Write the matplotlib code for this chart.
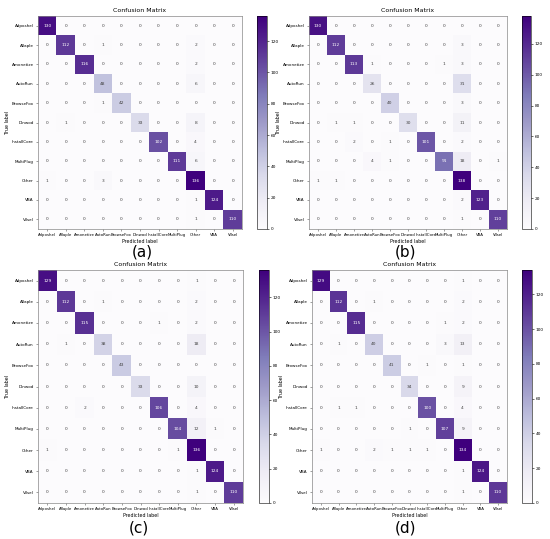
import numpy as np
import matplotlib
matplotlib.use("Agg")
import matplotlib.pyplot as plt

labels = ["Adposhel", "Allaple", "Amonetize", "AutoRun", "BrowseFox", "Dinwod",
          "InstallCore", "MultiPlug", "Other", "VBA", "Vilsel"]

cm_a = [[130, 0, 0, 0, 0, 0, 0, 0, 0, 0, 0],
        [0, 112, 0, 1, 0, 0, 0, 0, 2, 0, 0],
        [0, 0, 116, 0, 0, 0, 0, 0, 2, 0, 0],
        [0, 0, 0, 48, 0, 0, 0, 0, 6, 0, 0],
        [0, 0, 0, 1, 42, 0, 0, 0, 0, 0, 0],
        [0, 1, 0, 0, 0, 33, 0, 0, 8, 0, 0],
        [0, 0, 0, 0, 0, 0, 102, 0, 4, 0, 0],
        [0, 0, 0, 0, 0, 0, 0, 111, 6, 0, 0],
        [1, 0, 0, 3, 0, 0, 0, 0, 136, 0, 0],
        [0, 0, 0, 0, 0, 0, 0, 0, 1, 124, 0],
        [0, 0, 0, 0, 0, 0, 0, 0, 1, 0, 110]]

cm_b = [[130, 0, 0, 0, 0, 0, 0, 0, 0, 0, 0],
        [0, 112, 0, 0, 0, 0, 0, 0, 3, 0, 0],
        [0, 0, 113, 1, 0, 0, 0, 1, 3, 0, 0],
        [0, 0, 0, 26, 0, 0, 0, 0, 31, 0, 0],
        [0, 0, 0, 0, 40, 0, 0, 0, 3, 0, 0],
        [0, 1, 1, 0, 0, 30, 0, 0, 11, 0, 0],
        [0, 0, 2, 0, 1, 0, 101, 0, 2, 0, 0],
        [0, 0, 0, 4, 1, 0, 0, 91, 18, 0, 1],
        [1, 1, 0, 0, 0, 0, 0, 0, 138, 0, 0],
        [0, 0, 0, 0, 0, 0, 0, 0, 2, 123, 0],
        [0, 0, 0, 0, 0, 0, 0, 0, 1, 0, 110]]

cm_c = [[129, 0, 0, 0, 0, 0, 0, 0, 1, 0, 0],
        [0, 112, 0, 1, 0, 0, 0, 0, 2, 0, 0],
        [0, 0, 115, 0, 0, 0, 1, 0, 2, 0, 0],
        [0, 1, 0, 38, 0, 0, 0, 0, 18, 0, 0],
        [0, 0, 0, 0, 43, 0, 0, 0, 0, 0, 0],
        [0, 0, 0, 0, 0, 33, 0, 0, 10, 0, 0],
        [0, 0, 2, 0, 0, 0, 106, 0, 4, 0, 0],
        [0, 0, 0, 0, 0, 0, 0, 104, 12, 1, 0],
        [1, 0, 0, 0, 0, 0, 0, 1, 136, 0, 0],
        [0, 0, 0, 0, 0, 0, 0, 0, 1, 124, 0],
        [0, 0, 0, 0, 0, 0, 0, 0, 1, 0, 110]]

cm_d = [[129, 0, 0, 0, 0, 0, 0, 0, 1, 0, 0],
        [0, 112, 0, 1, 0, 0, 0, 0, 2, 0, 0],
        [0, 0, 115, 0, 0, 0, 0, 1, 2, 0, 0],
        [0, 1, 0, 40, 0, 0, 0, 3, 13, 0, 0],
        [0, 0, 0, 0, 41, 0, 1, 0, 1, 0, 0],
        [0, 0, 0, 0, 0, 34, 0, 0, 9, 0, 0],
        [0, 1, 1, 0, 0, 0, 100, 0, 4, 0, 0],
        [0, 0, 0, 0, 0, 1, 0, 107, 9, 0, 0],
        [1, 0, 0, 2, 1, 1, 1, 0, 134, 0, 0],
        [0, 0, 0, 0, 0, 0, 0, 0, 1, 124, 0],
        [0, 0, 0, 0, 0, 0, 0, 0, 1, 0, 110]]

W, H = 550, 539

def box(x0, y0, x1, y1):
    return [x0 / W, 1 - y1 / H, (x1 - x0) / W, (y1 - y0) / H]

# (matrix, matrix box, colorbar box, caption, caption position)
panels = [
    (cm_a, (38, 16, 242, 229), (257, 16, 267, 229), "(a)", (142, 252)),
    (cm_b, (309, 16, 507, 229), (522, 16, 531, 229), "(b)", (405, 252)),
    (cm_c, (38, 270, 243, 503), (259, 270, 269, 503), "(c)", (139, 528)),
    (cm_d, (312, 270, 507, 503), (522, 270, 532, 503), "(d)", (405, 528)),
]

fig = plt.figure(figsize=(5.5, 5.39), dpi=100)

for cm, mb, cb, cap, cpos in panels:
    cm = np.array(cm)
    ax = fig.add_axes(box(*mb))
    im = ax.imshow(cm, cmap="Purples", aspect="auto", vmin=0, vmax=cm.max())
    thresh = cm.max() / 2.0
    for i in range(cm.shape[0]):
        for j in range(cm.shape[1]):
            ax.text(j, i, str(cm[i, j]), ha="center", va="center", fontsize=3.2,
                    color="white" if cm[i, j] > thresh else "#444444")
    ax.set_xticks(range(len(labels)))
    ax.set_yticks(range(len(labels)))
    ax.set_xticklabels(labels, fontsize=2.8)
    ax.set_yticklabels(labels, fontsize=3.0)
    ax.tick_params(length=1.5, width=0.4, pad=1.5, color="#555555")
    ax.set_title("Confusion Matrix", fontsize=4.5, pad=3)
    ax.set_xlabel("Predicted label", fontsize=3.4, labelpad=1)
    ax.set_ylabel("True label", fontsize=3.4, labelpad=1)
    for s in ax.spines.values():
        s.set_linewidth(0.5)
        s.set_color("#888888")

    cax = fig.add_axes(box(*cb))
    cbar = fig.colorbar(im, cax=cax)
    cbar.set_ticks([0, 20, 40, 60, 80, 100, 120])
    cbar.ax.tick_params(labelsize=3.1, length=1.5, width=0.4, pad=1)
    cbar.outline.set_linewidth(0.4)

    fig.text(cpos[0] / W, 1 - cpos[1] / H, cap, ha="center", va="center", fontsize=11)

fig.savefig("out.png", dpi=100)
